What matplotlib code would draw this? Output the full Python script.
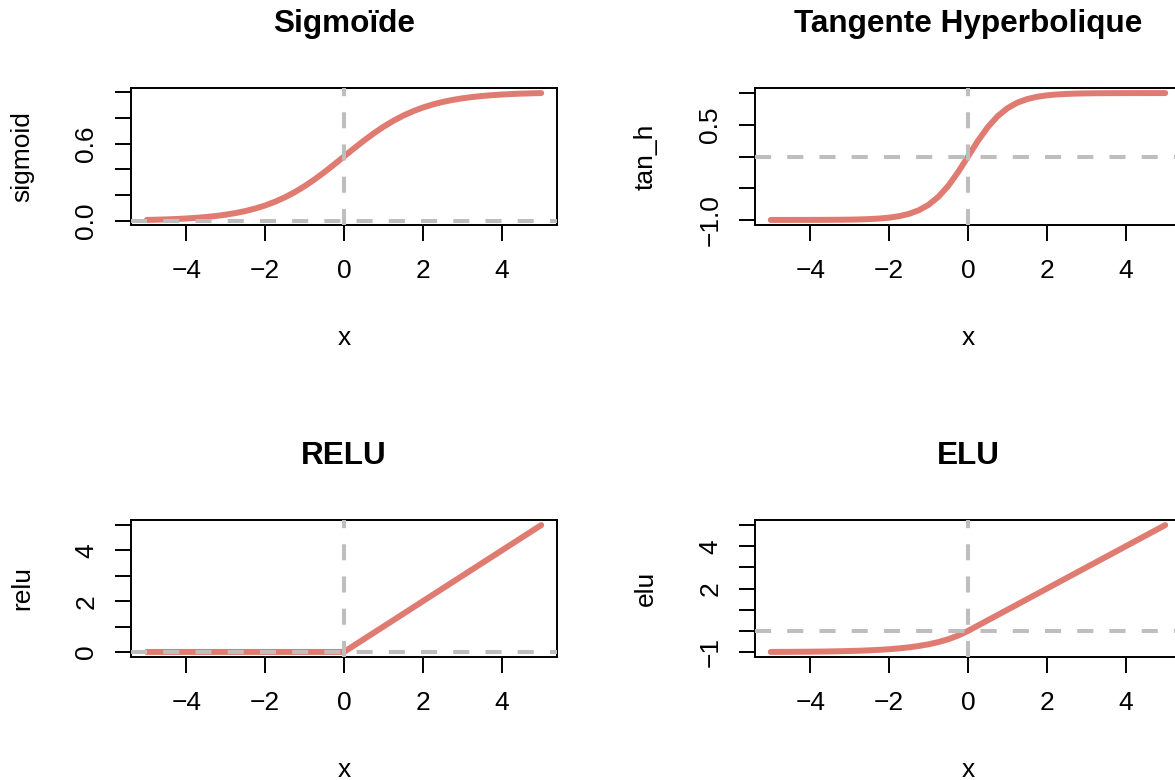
import matplotlib
matplotlib.use('Agg')
import matplotlib.pyplot as plt

plt.rcParams['font.family'] = ['Liberation Sans', 'DejaVu Sans']

# x grid of the curves (-5 .. 5, step 0.25)
x = [-5, -4.75, -4.5, -4.25, -4, -3.75, -3.5, -3.25, -3, -2.75, -2.5, -2.25,
     -2, -1.75, -1.5, -1.25, -1, -0.75, -0.5, -0.25, 0, 0.25, 0.5, 0.75,
     1, 1.25, 1.5, 1.75, 2, 2.25, 2.5, 2.75, 3, 3.25, 3.5, 3.75, 4, 4.25,
     4.5, 4.75, 5]

sigmoid = [0.0067, 0.0086, 0.011, 0.014, 0.018, 0.023, 0.0293, 0.0374, 0.0474,
           0.0601, 0.0759, 0.0953, 0.1192, 0.148, 0.1824, 0.2227, 0.2689,
           0.3208, 0.3775, 0.4378, 0.5, 0.5622, 0.6225, 0.6792, 0.7311,
           0.7773, 0.8176, 0.852, 0.8808, 0.9047, 0.9241, 0.9399, 0.9526,
           0.9626, 0.9707, 0.977, 0.982, 0.986, 0.989, 0.9914, 0.9933]

tan_h = [-0.9999, -0.9999, -0.9998, -0.9996, -0.9993, -0.9989, -0.9982,
         -0.997, -0.9951, -0.9919, -0.9866, -0.978, -0.964, -0.9414, -0.9051,
         -0.8483, -0.7616, -0.6351, -0.4621, -0.2449, 0, 0.2449, 0.4621,
         0.6351, 0.7616, 0.8483, 0.9051, 0.9414, 0.964, 0.978, 0.9866,
         0.9919, 0.9951, 0.997, 0.9982, 0.9989, 0.9993, 0.9996, 0.9998,
         0.9999, 0.9999]

relu = [0, 0, 0, 0, 0, 0, 0, 0, 0, 0, 0, 0, 0, 0, 0, 0, 0, 0, 0, 0, 0,
        0.25, 0.5, 0.75, 1, 1.25, 1.5, 1.75, 2, 2.25, 2.5, 2.75, 3, 3.25,
        3.5, 3.75, 4, 4.25, 4.5, 4.75, 5]

elu = [-0.9933, -0.9914, -0.9889, -0.9857, -0.9817, -0.9765, -0.9698,
       -0.9612, -0.9502, -0.9361, -0.9179, -0.8946, -0.8647, -0.8262,
       -0.7769, -0.7135, -0.6321, -0.5276, -0.3935, -0.2212, 0, 0.25, 0.5,
       0.75, 1, 1.25, 1.5, 1.75, 2, 2.25, 2.5, 2.75, 3, 3.25, 3.5, 3.75, 4,
       4.25, 4.5, 4.75, 5]

x_ticks = [-4, -2, 0, 2, 4]
x_labels = ['\u22124', '\u22122', '0', '2', '4']

panels = [
    ('Sigmo\u00efde', 'sigmoid', sigmoid,
     [0, 0.2, 0.4, 0.6, 0.8, 1.0], ['0.0', '', '', '0.6', '', '']),
    ('Tangente Hyperbolique', 'tan_h', tan_h,
     [-1, -0.5, 0, 0.5, 1], ['\u22121.0', '', '', '0.5', '']),
    ('RELU', 'relu', relu,
     [0, 1, 2, 3, 4, 5], ['0', '', '2', '', '4', '']),
    ('ELU', 'elu', elu,
     [-1, 0, 1, 2, 3, 4, 5], ['\u22121', '', '', '2', '', '4', '']),
]

W, H = 1175, 780
fig = plt.figure(figsize=(W / 100, H / 100), dpi=100)

# box positions in pixels: left, top, right, bottom
lefts = [131, 755]
tops = [88, 520]
bw, bh = 426, 137

red = '#E07B71'
grey = '#BEBEBE'

for i, (title, ylab, y, yt, ytl) in enumerate(panels):
    r, c = divmod(i, 2)
    ax = fig.add_axes([lefts[c] / W, 1 - (tops[r] + bh) / H, bw / W, bh / H])
    ax.plot(x, y, color=red, lw=4.3, solid_capstyle='round', zorder=2)
    ax.axvline(0, color=grey, lw=2.9, ls=(0, (4, 4)), zorder=3)
    ax.axhline(0, color=grey, lw=2.9, ls=(0, (4, 4)), zorder=3)

    xr = max(x) - min(x)
    ax.set_xlim(min(x) - 0.04 * xr, max(x) + 0.04 * xr)
    yr = max(y) - min(y)
    ax.set_ylim(min(y) - 0.04 * yr, max(y) + 0.04 * yr)

    ax.set_xticks(x_ticks, x_labels)
    ax.set_yticks(yt, ytl, rotation=90, va='center')
    ax.tick_params(direction='out', length=11.5, width=1.4, labelsize=19)
    ax.tick_params(axis='x', pad=13)
    ax.tick_params(axis='y', pad=12)
    for s in ax.spines.values():
        s.set_linewidth(1.4)

    ax.set_title(title, fontsize=22.7, fontweight='bold', pad=40)
    ax.set_xlabel('x', fontsize=19, va='center')
    ax.xaxis.set_label_coords(0.5, -113 / bh)
    ax.set_ylabel(ylab, fontsize=19, va='center')
    ax.yaxis.set_label_coords(-109 / bw, 0.5)

fig.savefig('out.png', dpi=100)
